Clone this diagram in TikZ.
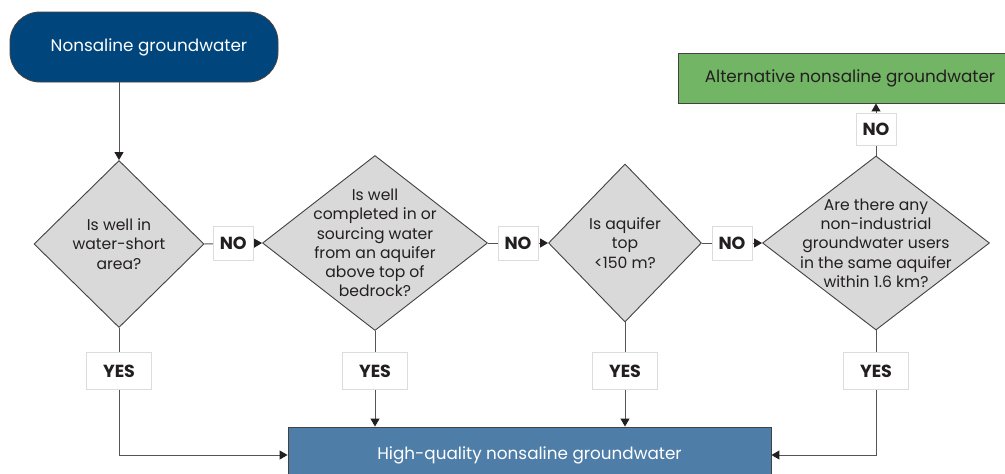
\documentclass[tikz,border=0pt]{standalone}
\usepackage{fontspec}
\setmainfont{Poppins}
\usetikzlibrary{shapes.geometric,arrows.meta,calc}
\definecolor{darkblue}{RGB}{0,70,125}
\definecolor{midblue}{RGB}{78,126,168}
\definecolor{leafgreen}{RGB}{114,181,100}
\definecolor{diagray}{RGB}{217,217,217}
\definecolor{linegray}{RGB}{85,85,85}
\definecolor{txtdark}{RGB}{35,31,32}
\definecolor{lblborder}{RGB}{220,220,220}
\begin{document}
\begin{tikzpicture}[x=1pt,y=-1pt,
  every node/.style={font=\fontsize{16.8}{19}\selectfont},
  dia/.style={diamond,draw=txtdark!85,fill=diagray,line width=0.9pt,inner sep=0pt},
  dtext/.style={align=center,text=txtdark,font=\fontsize{15.6}{19.3}\selectfont},
  lbl/.style={draw=lblborder,fill=white,line width=0.6pt,text=txtdark,font=\bfseries\fontsize{17.5}{19}\selectfont,inner sep=0pt},
  nolbl/.style={lbl,minimum width=40pt,minimum height=34pt},
  yeslbl/.style={lbl,minimum width=65pt,minimum height=37pt},
  conn/.style={draw=linegray,line width=1pt},
  arr/.style={conn,-{Triangle[length=8pt,width=9pt,color=txtdark]}}
]
\useasboundingbox (0,0) rectangle (1005,474);
% top node
\node[draw=txtdark!85,fill=darkblue,rounded corners=30pt,line width=0.9pt,minimum width=268pt,minimum height=70pt,inner sep=0pt,text=white,font=\fontsize{16.8}{19}\selectfont] (start) at (144,47) {\hspace{10pt}Nonsaline groundwater};
% diamonds
\node[dia,minimum width=170pt,minimum height=167pt,label={[dtext]center:{Is well in\\water-short\\area?}}] (d1) at (119,244) {};
\node[dia,minimum width=225pt,minimum height=175pt,label={[dtext]center:{Is well\\completed in or\\sourcing water\\from an aquifer\\above top of\\bedrock?}}] (d2) at (375,243) {};
\node[dia,minimum width=153pt,minimum height=158pt,label={[dtext]center:{Is aquifer\\top\\<150 m?}}] (d3) at (625,243) {};
\node[dia,minimum width=227pt,minimum height=174pt,label={[dtext]center:{Are there any\\non-industrial\\groundwater users\\in the same aquifer\\within 1.6 km?}}] (d4) at (876,243) {};
% result boxes
\node[draw=txtdark!85,fill=leafgreen,line width=0.9pt,minimum width=344pt,minimum height=50pt,inner sep=0pt,text=txtdark] (alt) at (850,78) {Alternative nonsaline groundwater};
\node[draw=txtdark!85,fill=midblue,line width=0.9pt,minimum width=483pt,minimum height=56pt,inner sep=0pt,text=white] (hq) at (529.5,455) {High-quality nonsaline groundwater};
% connectors
\draw[arr] (start.south -| d1.north) -- (d1.north);
\draw[arr] (d1.east) -- (d2.west);
\draw[arr] (d2.east) -- (d3.west);
\draw[arr] (d3.east) -- (d4.west);
\draw[arr] (d4.north) -- (alt.south -| d4.north);
\draw[arr] (d1.south) |- (hq.west);
\draw[arr] (d2.south) -- (hq.north -| d2.south);
\draw[arr] (d3.south) -- (hq.north -| d3.south);
\draw[arr] (d4.south) |- (hq.east);
% labels
\node[nolbl] (no1) at ($(d1.east)!0.5!(d2.west)$) {NO};
\node[nolbl] (no2) at ($(d2.east)!0.5!(d3.west)$) {NO};
\node[nolbl] (no3) at ($(d3.east)!0.5!(d4.west)$) {NO};
\node[nolbl,minimum height=32pt] (no4) at ($(d4.north)!0.5!(alt.south -| d4.north)$) {NO};
\node[yeslbl] (yes1) at (d1.south |- 0,371) {YES};
\node[yeslbl] (yes2) at (d2.south |- 0,371) {YES};
\node[yeslbl] (yes3) at (d3.south |- 0,371) {YES};
\node[yeslbl] (yes4) at (d4.south |- 0,371) {YES};
\end{tikzpicture}
\end{document}
